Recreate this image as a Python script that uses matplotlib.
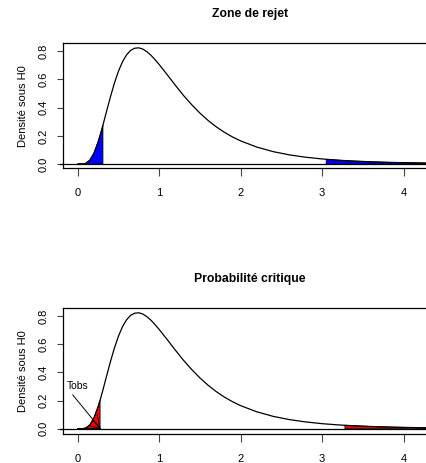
import numpy as np
import matplotlib
matplotlib.use("Agg")
import matplotlib.pyplot as plt

plt.rcParams['font.family'] = ['Liberation Sans', 'DejaVu Sans']

# density (same curve in both panels)
x_vals = [0, 0.05, 0.1, 0.15, 0.2, 0.25, 0.275, 0.3, 0.31, 0.35, 0.4, 0.45, 0.5,
          0.55, 0.6, 0.65, 0.7, 0.75, 0.8, 0.85, 0.9, 0.95, 1.0, 1.1, 1.2, 1.3,
          1.4, 1.5, 1.6, 1.7, 1.8, 1.9, 2.0, 2.2, 2.4, 2.6, 2.8, 3.0, 3.05, 3.2,
          3.28, 3.4, 3.6, 3.8, 4.0, 4.2, 4.4]
dens = [0.0, 0.0002, 0.0053, 0.0276, 0.0773, 0.155, 0.2025, 0.254, 0.275, 0.363,
        0.471, 0.571, 0.656, 0.724, 0.773, 0.805, 0.820, 0.823, 0.814, 0.795,
        0.770, 0.739, 0.705, 0.632, 0.557, 0.485, 0.420, 0.361, 0.309, 0.264,
        0.225, 0.192, 0.164, 0.120, 0.0879, 0.0649, 0.0483, 0.0362, 0.0338,
        0.0274, 0.0246, 0.0209, 0.0160, 0.0124, 0.0097, 0.0076, 0.0060]

panels = [
    {"title": "Zone de rejet", "low": 0.31, "high": 3.05, "col": "blue"},
    {"title": "Probabilité critique", "low": 0.275, "high": 3.28, "col": "red"},
]
tobs = 0.275

x = np.array(x_vals)
y = np.array(dens)

fig = plt.figure(figsize=(4.27, 4.63), dpi=100)
boxes = [[0.1475, 0.6365, 0.876, 0.2706], [0.1475, 0.0633, 0.876, 0.2715]]
ylims = [(-0.030, 0.857), (-0.035, 0.857)]

for p, box, yl in zip(panels, boxes, ylims):
    ax = fig.add_axes(box)
    ax.set_xlim(-0.18, 4.41)
    ax.set_ylim(*yl)

    # shaded tails
    lo = x <= p["low"]
    ax.fill(np.append(x[lo], p["low"]), np.append(y[lo], 0),
            facecolor=p["col"], edgecolor="black", lw=0.6)
    hi = x >= p["high"]
    ax.fill(np.concatenate([[p["high"]], x[hi], [x[hi][-1]]]),
            np.concatenate([[0], y[hi], [0]]),
            facecolor=p["col"], edgecolor="black", lw=0.6)

    ax.plot(x, y, color="black", lw=0.9)
    ax.plot([-0.22, 4.6], [0, 0], color="black", lw=0.9, clip_on=False)

    ax.set_xticks([0, 1, 2, 3, 4])
    ax.set_yticks([0.0, 0.2, 0.4, 0.6, 0.8])
    ax.set_yticklabels(["0.0", "0.2", "0.4", "0.6", "0.8"], rotation=90, va="center")
    ax.tick_params(axis="x", length=6, width=0.8, labelsize=8, pad=8.5, color="#444444")
    ax.tick_params(axis="y", length=4, width=0.8, labelsize=8, pad=6, color="#444444")
    ax.spines["right"].set_visible(False)
    for s in ["left", "top", "bottom"]:
        ax.spines[s].set_linewidth(0.9)
    ax.set_ylabel("Densité sous H0", fontsize=8, labelpad=8)
    ax.set_title(p["title"], fontsize=8.8, fontweight="bold", pad=19, x=0.5)

    if p["col"] == "red":
        ax.text(0.0, 0.30, "Tobs", fontsize=7.5, ha="center", va="center")
        ax.plot([-0.06, tobs], [0.24, 0.004], color="black", lw=0.7)
        for px, py in [(0.12, 0.004), (0.16, 0.02), (0.2, 0.05), (0.24, 0.1)]:
            ax.plot([tobs, px], [0.0, py], color="black", lw=0.6)

fig.savefig("out.png", dpi=100)
